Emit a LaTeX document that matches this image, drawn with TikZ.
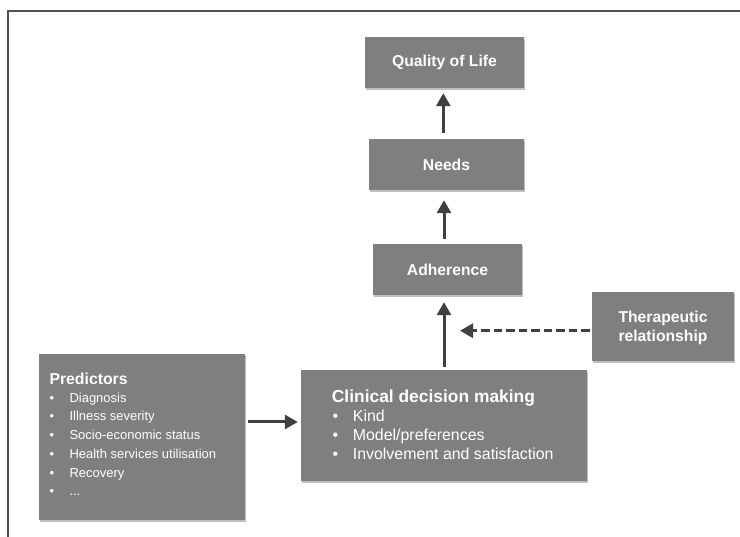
\documentclass[tikz,border=0pt]{standalone}
\usepackage{fontspec}
\setmainfont{Liberation Sans}
\usetikzlibrary{arrows.meta,shadows,calc}
\definecolor{boxgray}{HTML}{7F7F7F}
\definecolor{arrgray}{HTML}{404040}
\definecolor{framegray}{HTML}{505050}
\begin{document}
\begin{tikzpicture}[x=1pt,y=-1pt,
  box/.style={fill=boxgray, draw=none, inner sep=0pt,
    drop shadow={shadow xshift=1.2pt, shadow yshift=-1.6pt, fill=black, opacity=0.25},
    text=white, font=\bfseries\fontsize{15.7}{19}\selectfont, align=center},
  ttl/.style={text=white, inner sep=0pt, anchor=base west, font=\bfseries\fontsize{15.8}{19}\selectfont},
  ttlc/.style={text=white, inner sep=0pt, anchor=base west, font=\bfseries\fontsize{17.4}{19}\selectfont},
  itm/.style={text=white, inner sep=0pt, anchor=base west, font=\fontsize{13}{16}\selectfont},
  itmc/.style={text=white, inner sep=0pt, anchor=base west, font=\fontsize{15.9}{19}\selectfont},
  arr/.style={draw=arrgray, line width=3pt, -{Triangle[length=13pt,width=14pt]}},
  dsh/.style={arr, dash pattern=on 8.5pt off 4pt}]
\useasboundingbox (0,0) rectangle (740,537);
% frame
\draw[framegray, line width=2pt] (8,537) -- (8,11) -- (740,11);
% boxes
\node[box, minimum width=159pt, minimum height=51pt] (qol) at (444.5,62.5) {Quality of Life};
\node[box, minimum width=155pt, minimum height=51pt] (needs) at (446.5,164.5) {Needs};
\node[box, minimum width=149pt, minimum height=51pt] (adh) at (447.5,269.5) {Adherence};
\node[box, minimum width=142pt, minimum height=69pt] (ther) at (663,326.5) {};
\node[box, minimum width=286pt, minimum height=111pt] (clin) at (444,425.5) {};
\node[box, minimum width=206pt, minimum height=166pt] (pred) at (142,437) {};
% therapeutic text
\node[text=white, inner sep=0pt, anchor=base, font=\bfseries\fontsize{15.7}{19}\selectfont] (ther1) at (663,322.7) {Therapeutic};
\node[text=white, inner sep=0pt, anchor=base, font=\bfseries\fontsize{15.7}{19}\selectfont] (ther2) at (663,341.7) {relationship};
% predictors text
\node[ttl] (pt) at (49.3,385) {Predictors};
\node[itm] (pb1) at (49.5,402.3) {•};
\node[itm] (pi1) at (69.3,402.3) {Diagnosis};
\node[itm] (pb2) at (49.5,421) {•};
\node[itm] (pi2) at (69.3,421) {Illness severity};
\node[itm] (pb3) at (49.5,439.7) {•};
\node[itm] (pi3) at (69.3,439.7) {Socio-economic status};
\node[itm] (pb4) at (49.5,458.4) {•};
\node[itm] (pi4) at (69.3,458.4) {Health services utilisation};
\node[itm] (pb5) at (49.5,477.1) {•};
\node[itm] (pi5) at (69.3,477.1) {Recovery};
\node[itm] (pb6) at (49.5,495.8) {•};
\node[itm] (pi6) at (69.3,495.8) {...};
% clinical text
\node[ttlc] (ct) at (331.7,402.7) {Clinical decision making};
\node[itmc] (cb1) at (332.5,421.7) {•};
\node[itmc] (ci1) at (352.7,421.7) {Kind};
\node[itmc] (cb2) at (332.5,440.5) {•};
\node[itmc] (ci2) at (352.7,440.5) {Model/preferences};
\node[itmc] (cb3) at (332.5,459.3) {•};
\node[itmc] (ci3) at (352.7,459.3) {Involvement and satisfaction};
% connectors
\coordinate (hy) at (0,422);
\coordinate (dy) at (0,330.7);
\coordinate (vx) at (444,0);
\draw[arr, shorten <=3pt, shorten >=3pt] (pred.east |- hy) -- (clin.west |- hy);
\draw[arr, shorten <=3pt, shorten >=7pt] (clin.north) -- (clin.north |- adh.south);
\draw[dsh, shorten <=2pt, shorten >=16pt] (ther.west |- dy) -- (vx |- dy);
\draw[arr, shorten <=5pt, shorten >=10pt] (vx |- adh.north) -- (vx |- needs.south);
\draw[arr, shorten <=6pt, shorten >=5pt] ($(vx |- needs.north)+(-0.7,0)$) -- ($(vx |- qol.south)+(-0.7,0)$);
\end{tikzpicture}
\end{document}
